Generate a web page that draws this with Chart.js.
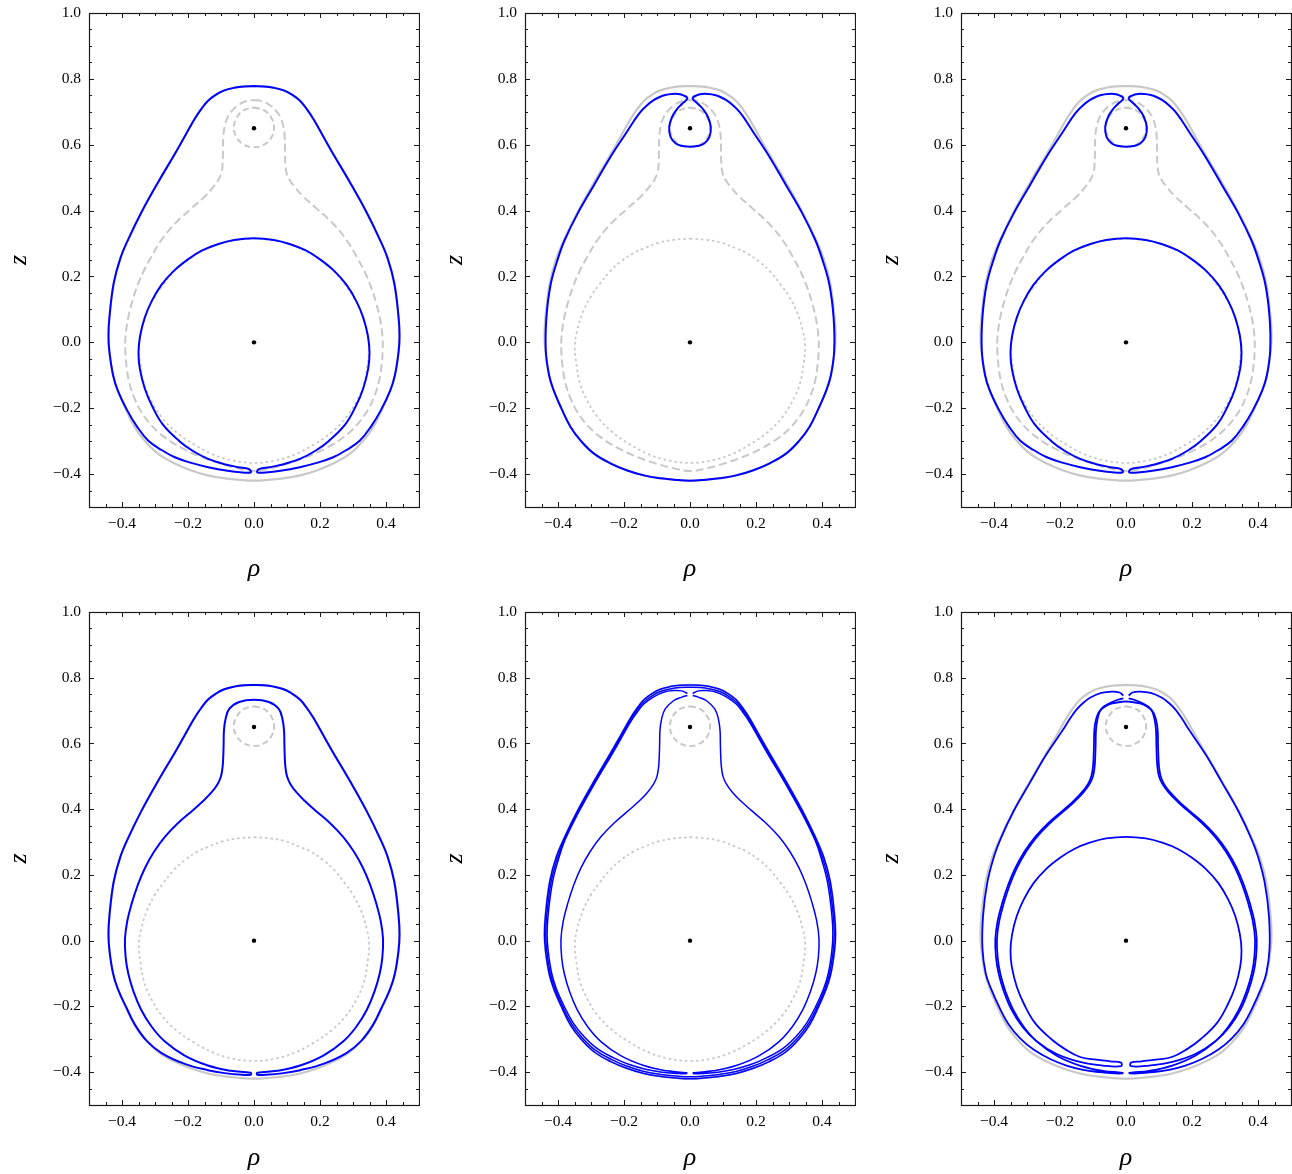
<!DOCTYPE html>
<html>
<head>
<meta charset="utf-8">
<script src="https://cdn.jsdelivr.net/npm/chart.js@4.4.1/dist/chart.umd.min.js"></script>
<style>
  html, body { margin: 0; padding: 0; background: #fff; overflow: hidden; width: 1292px; height: 1174px; }
  canvas { position: absolute; }
</style>
</head>
<body>
<canvas id="p1"></canvas>
<canvas id="p2"></canvas>
<canvas id="p3"></canvas>
<canvas id="p4"></canvas>
<canvas id="p5"></canvas>
<canvas id="p6"></canvas>
<script>
// axis ticks
const xTicks = [-0.4, -0.2, 0, 0.2, 0.4];
const xTickLabels = ["−0.4", "−0.2", "0.0", "0.2", "0.4"];
const yTicks = [-0.4, -0.2, 0, 0.2, 0.4, 0.6, 0.8, 1.0];
const yTickLabels = ["−0.4", "−0.2", "0.0", "0.2", "0.4", "0.6", "0.8", "1.0"];

// the two centres
const nuclei = [[0, 0], [0, 0.65]];

// gray reference curves, right halves (rho >= 0), read top to bottom
const grayOuterR = [[0, 0.778], [0.03, 0.777], [0.06, 0.773], [0.09, 0.765], [0.115, 0.752], [0.14, 0.733],
  [0.16, 0.708], [0.18, 0.678], [0.21, 0.625], [0.24, 0.572], [0.29, 0.487], [0.341, 0.395], [0.38, 0.315],
  [0.405, 0.255], [0.425, 0.18], [0.438, 0.077], [0.441, 0.02], [0.438, -0.03], [0.427, -0.1],
  [0.413, -0.146], [0.39, -0.2], [0.362, -0.257], [0.33, -0.3], [0.291, -0.338], [0.24, -0.368],
  [0.19, -0.389], [0.14, -0.404], [0.089, -0.413], [0.04, -0.418], [0, -0.42]];
const dashedBigR = [[0, 0.736], [0.025, 0.732], [0.048, 0.72], [0.067, 0.703], [0.08, 0.683], [0.089, 0.655],
  [0.093, 0.625], [0.094, 0.58], [0.095, 0.543], [0.099, 0.513], [0.11, 0.49], [0.125, 0.47], [0.149, 0.443],
  [0.19, 0.406], [0.24, 0.36], [0.281, 0.31], [0.311, 0.26], [0.335, 0.215], [0.354, 0.17], [0.37, 0.12],
  [0.382, 0.07], [0.389, 0.02], [0.39, -0.024], [0.386, -0.075], [0.377, -0.126], [0.362, -0.17],
  [0.344, -0.207], [0.31, -0.253], [0.271, -0.288], [0.215, -0.323], [0.15, -0.352], [0.1, -0.369],
  [0.052, -0.382], [0, -0.391]];
const dashedSmallR = [[0, 0.713], [0.03, 0.705], [0.052, 0.683], [0.061, 0.652], [0.052, 0.621], [0.03, 0.6], [0, 0.592]];
const dottedR = [[0, 0.315], [0.05, 0.311], [0.096, 0.302], [0.14, 0.285], [0.17, 0.272], [0.21, 0.245],
  [0.243, 0.215], [0.275, 0.175], [0.3, 0.14], [0.325, 0.09], [0.342, 0.035], [0.349, -0.01], [0.345, -0.06],
  [0.333, -0.126], [0.31, -0.18], [0.28, -0.227], [0.235, -0.273], [0.18, -0.311], [0.125, -0.34],
  [0.065, -0.359], [0, -0.366]];

// blue orbit pieces, right halves
const bottomCuspR = [[0.385, -0.205], [0.355, -0.255], [0.321, -0.298], [0.28, -0.327], [0.24, -0.349],
  [0.19, -0.366], [0.139, -0.379], [0.08, -0.39], [0.035, -0.395], [0.01, -0.395]];
const bottom4R = [[0.386, -0.205], [0.36, -0.257], [0.325, -0.305], [0.28, -0.342], [0.21, -0.375],
  [0.14, -0.394], [0.089, -0.403], [0.035, -0.408], [0.01, -0.408]];
const innerCircleR = [[0, 0.316], [0.06, 0.311], [0.11, 0.298], [0.157, 0.279], [0.2, 0.252], [0.243, 0.217],
  [0.28, 0.175], [0.31, 0.125], [0.331, 0.075], [0.345, 0.02], [0.35, -0.03], [0.346, -0.08],
  [0.331, -0.14], [0.308, -0.195], [0.276, -0.25], [0.226, -0.3], [0.185, -0.33], [0.139, -0.354]];
const innerTail1 = [[0.09, -0.37], [0.048, -0.379], [0.015, -0.385]];
const innerTail6 = [[0.09, -0.362], [0.048, -0.367], [0.015, -0.371]];
const topOuterR = [[0.008, 0.741], [0.02, 0.75], [0.035, 0.754], [0.055, 0.754], [0.075, 0.751], [0.092, 0.745],
  [0.109, 0.736], [0.13, 0.72], [0.15, 0.7], [0.17, 0.672], [0.19, 0.641], [0.241, 0.563], [0.291, 0.477],
  [0.341, 0.39], [0.38, 0.31], [0.4, 0.255], [0.422, 0.177], [0.435, 0.077], [0.437, -0.024]];
const smallLoopR = [[0.008, 0.741], [0.023, 0.725], [0.038, 0.71], [0.054, 0.685], [0.063, 0.654],
  [0.059, 0.624], [0.043, 0.604], [0.023, 0.596], [0, 0.594]];
const neckCap = [[0, 0.733], [0.045, 0.726]];
const neckBodyR = [[0.075, 0.705], [0.086, 0.675], [0.091, 0.64], [0.092, 0.6], [0.093, 0.565], [0.095, 0.53],
  [0.1, 0.5], [0.11, 0.477], [0.129, 0.451], [0.155, 0.424], [0.185, 0.397], [0.23, 0.358], [0.27, 0.316],
  [0.302, 0.272], [0.33, 0.222], [0.352, 0.17], [0.37, 0.115], [0.384, 0.06], [0.391, 0.005],
  [0.389, -0.05], [0.381, -0.1], [0.365, -0.155], [0.342, -0.21], [0.31, -0.262], [0.27, -0.307],
  [0.21, -0.35], [0.14, -0.38], [0.07, -0.396], [0.01, -0.402]];
const outerBR = [[0, 0.771], [0.03, 0.77], [0.06, 0.766], [0.09, 0.758], [0.115, 0.745], [0.14, 0.726],
  [0.16, 0.702], [0.18, 0.672], [0.21, 0.619], [0.24, 0.566], [0.29, 0.481], [0.341, 0.389], [0.38, 0.309],
  [0.402, 0.25], [0.421, 0.178], [0.434, 0.077], [0.437, 0.02], [0.434, -0.03], [0.423, -0.1],
  [0.409, -0.146], [0.386, -0.2], [0.358, -0.254], [0.326, -0.296], [0.287, -0.333], [0.237, -0.362],
  [0.188, -0.383], [0.139, -0.398], [0.089, -0.407], [0.04, -0.412], [0, -0.414]];
const loop5OuterR = [[0.008, 0.752], [0.025, 0.76], [0.05, 0.761], [0.08, 0.756], [0.11, 0.742], [0.14, 0.72],
  [0.16, 0.695], [0.18, 0.666], [0.21, 0.613], [0.24, 0.561], [0.29, 0.476], [0.341, 0.384], [0.38, 0.303],
  [0.399, 0.246], [0.417, 0.176], [0.43, 0.077], [0.433, 0.02], [0.43, -0.03], [0.419, -0.1],
  [0.405, -0.146], [0.382, -0.198], [0.354, -0.25], [0.322, -0.291], [0.283, -0.327], [0.233, -0.356],
  [0.184, -0.377], [0.135, -0.391], [0.085, -0.4], [0.04, -0.404], [0.012, -0.405]];
const cuspCap5 = [[0.008, 0.746], [0.025, 0.741], [0.05, 0.73]];
const loop6OuterR = [[0.008, 0.746], [0.02, 0.755], [0.04, 0.758], [0.075, 0.754], [0.109, 0.739], [0.13, 0.723],
  [0.15, 0.703], [0.17, 0.675], [0.19, 0.643], [0.241, 0.567], [0.291, 0.481], [0.341, 0.393], [0.38, 0.31],
  [0.4, 0.256], [0.42, 0.178], [0.433, 0.077], [0.435, -0.024], [0.425, -0.1], [0.409, -0.146],
  [0.385, -0.2], [0.356, -0.254], [0.32, -0.298], [0.279, -0.332], [0.23, -0.36], [0.18, -0.38],
  [0.13, -0.393], [0.08, -0.4], [0.035, -0.404], [0.012, -0.404]];
const cuspCap6 = [[0.008, 0.737], [0.025, 0.733], [0.05, 0.722]];
const neck2R = [[0, 0.728], [0.045, 0.721], [0.079, 0.7], [0.091, 0.672], [0.096, 0.64], [0.097, 0.6],
  [0.098, 0.565], [0.1, 0.53], [0.105, 0.5], [0.115, 0.477], [0.134, 0.451], [0.16, 0.424], [0.19, 0.397],
  [0.235, 0.358], [0.275, 0.316], [0.307, 0.272], [0.335, 0.222], [0.357, 0.17], [0.375, 0.115],
  [0.389, 0.06], [0.396, 0.005], [0.394, -0.05], [0.386, -0.1], [0.37, -0.155], [0.347, -0.21],
  [0.314, -0.262], [0.272, -0.305], [0.21, -0.345], [0.14, -0.369], [0.07, -0.38], [0.015, -0.382]];

const GRAY = "#c8c8c8";
const BLUE = "#0000ff";

const rev = (a) => a.slice().reverse();
const flip = (a) => a.map((p) => [-p[0], p[1]]);
const closeSym = (half) => half.concat(rev(flip(half)).slice(1));

function curve(pts, color, width, dash, order) {
  return {
    data: pts,
    showLine: true,
    pointRadius: 0,
    borderColor: color,
    borderWidth: width,
    borderDash: dash || [],
    borderJoinStyle: "round",
    tension: 0.4,
    fill: false,
    order: order,
  };
}

const grayOuter = () => curve(closeSym(grayOuterR), GRAY, 2.2, null, 3);
const dashedBig = () => curve(closeSym(dashedBigR), GRAY, 2, [8, 4], 3);
const dashedSmall = () => curve(closeSym(dashedSmallR), GRAY, 2, [6, 3.5], 3);
const dotted = () => curve(closeSym(dottedR), GRAY, 1.8, [2.5, 3], 3);
const dots = () => ({ data: nuclei, showLine: false, pointRadius: 2.2, pointBackgroundColor: "#000", pointBorderWidth: 0, order: 1 });

const inner1 = innerCircleR.concat(innerTail1);
const inner6 = innerCircleR.concat(innerTail6);
const outerTop = grayOuterR.slice(0, 20);   // down to rho 0.413, z -0.146
const outerSide = grayOuterR.slice(18, 20); // rho 0.427 .. 0.413

const panel1 = [grayOuter(), dashedBig(), dashedSmall(), dotted(),
  curve(closeSym(outerTop.concat(bottomCuspR, rev(inner1))), BLUE, 2, null, 2), dots()];

const panel2 = [grayOuter(), dashedBig(), dashedSmall(), dotted(),
  curve(closeSym(rev(smallLoopR).concat(topOuterR.slice(1), grayOuterR.slice(18))), BLUE, 2, null, 2), dots()];

const panel3 = [grayOuter(), dashedBig(), dashedSmall(), dotted(),
  curve(closeSym(rev(smallLoopR).concat(topOuterR.slice(1), outerSide, bottomCuspR, rev(inner1))), BLUE, 2, null, 2), dots()];

const panel4 = [grayOuter(), dashedSmall(), dotted(),
  curve(closeSym(outerTop.concat(bottom4R, rev(neckCap.concat(neckBodyR)))), BLUE, 2, null, 2), dots()];

const loop5R = loop5OuterR.concat(rev(cuspCap5.concat(neckBodyR)));
const panel5 = [grayOuter(), dashedSmall(), dotted(),
  curve(closeSym(grayOuterR), BLUE, 1.5, null, 2),
  curve(closeSym(outerBR), BLUE, 1.5, null, 2),
  curve(loop5R, BLUE, 1.5, null, 2),
  curve(flip(loop5R), BLUE, 1.5, null, 2), dots()];

const loop6R = loop6OuterR.concat(rev(cuspCap6.concat(neckBodyR)));
const panel6 = [grayOuter(), dashedSmall(),
  curve(loop6R, BLUE, 1.8, null, 2),
  curve(flip(loop6R), BLUE, 1.8, null, 2),
  curve(closeSym(neck2R.concat(rev(inner6))), BLUE, 1.8, null, 2), dots()];

// frame with inward ticks on all four sides
const framePlugin = {
  id: "frame",
  afterDatasetsDraw(chart) {
    const { ctx, chartArea: a, scales } = chart;
    const x = scales.x, y = scales.y;
    ctx.save();
    ctx.strokeStyle = "#1a1a1a";
    ctx.lineWidth = 1.2;
    ctx.strokeRect(a.left + 0.5, a.top + 0.5, a.right - a.left, a.bottom - a.top);
    ctx.lineWidth = 1;
    ctx.beginPath();
    for (let k = -9; k <= 9; k++) {
      const len = k % 4 === 0 ? 5 : 3;
      const px = Math.round(x.getPixelForValue(k * 0.05)) + 0.5;
      ctx.moveTo(px, a.bottom); ctx.lineTo(px, a.bottom - len);
      ctx.moveTo(px, a.top); ctx.lineTo(px, a.top + len);
    }
    for (let k = -9; k <= 19; k++) {
      const len = k % 4 === 0 ? 5 : 3;
      const py = Math.round(y.getPixelForValue(k * 0.05)) + 0.5;
      ctx.moveTo(a.left, py); ctx.lineTo(a.left + len, py);
      ctx.moveTo(a.right, py); ctx.lineTo(a.right - len, py);
    }
    ctx.stroke();
    ctx.restore();
  },
};

const tickFont = { family: "'Liberation Serif', serif", size: 15.5 };
const titleFont = { family: "'Liberation Serif', serif", size: 26, style: "italic" };

function makePanel(id, plotLeft, plotTop, plotH, xTitleH, datasets) {
  const cv = document.getElementById(id);
  const w = 85 + 330 + 1, h = 20 + plotH + xTitleH;
  cv.width = w; cv.height = h;
  cv.style.width = w + "px"; cv.style.height = h + "px";
  cv.style.left = (plotLeft - 85) + "px";
  cv.style.top = (plotTop - 20) + "px";
  new Chart(cv, {
    type: "scatter",
    data: { datasets: datasets },
    options: {
      responsive: false,
      animation: false,
      events: [],
      layout: { autoPadding: false, padding: { top: 20, right: 1, left: 0, bottom: 0 } },
      plugins: { legend: { display: false }, tooltip: { enabled: false } },
      scales: {
        x: {
          type: "linear", min: -0.5, max: 0.5,
          afterBuildTicks: (s) => { s.ticks = xTicks.map((v) => ({ value: v })); },
          afterFit: (s) => { s.height = xTitleH; },
          grid: { display: false, drawTicks: false },
          border: { display: false },
          ticks: { padding: 8, color: "#000", font: tickFont, maxRotation: 0, autoSkip: false,
            callback: (v, i) => xTickLabels[i] },
          title: { display: true, text: "ρ", color: "#000", font: titleFont, padding: 0 },
        },
        y: {
          type: "linear", min: -0.5, max: 1.0,
          afterBuildTicks: (s) => { s.ticks = yTicks.map((v) => ({ value: v })); },
          afterFit: (s) => { s.width = 85; },
          grid: { display: false, drawTicks: false },
          border: { display: false },
          ticks: { padding: 8, color: "#000", font: tickFont, autoSkip: false,
            callback: (v, i) => yTickLabels[i] },
          title: { display: true, text: "z", color: "#000", font: titleFont, padding: 0 },
        },
      },
    },
    plugins: [framePlugin],
  });
}

makePanel("p1", 89, 13, 494, 78, panel1);
makePanel("p2", 525, 13, 494, 78, panel2);
makePanel("p3", 961, 13, 494, 78, panel3);
makePanel("p4", 89, 612, 493, 69, panel4);
makePanel("p5", 525, 612, 493, 69, panel5);
makePanel("p6", 961, 612, 493, 69, panel6);
</script>
</body>
</html>
